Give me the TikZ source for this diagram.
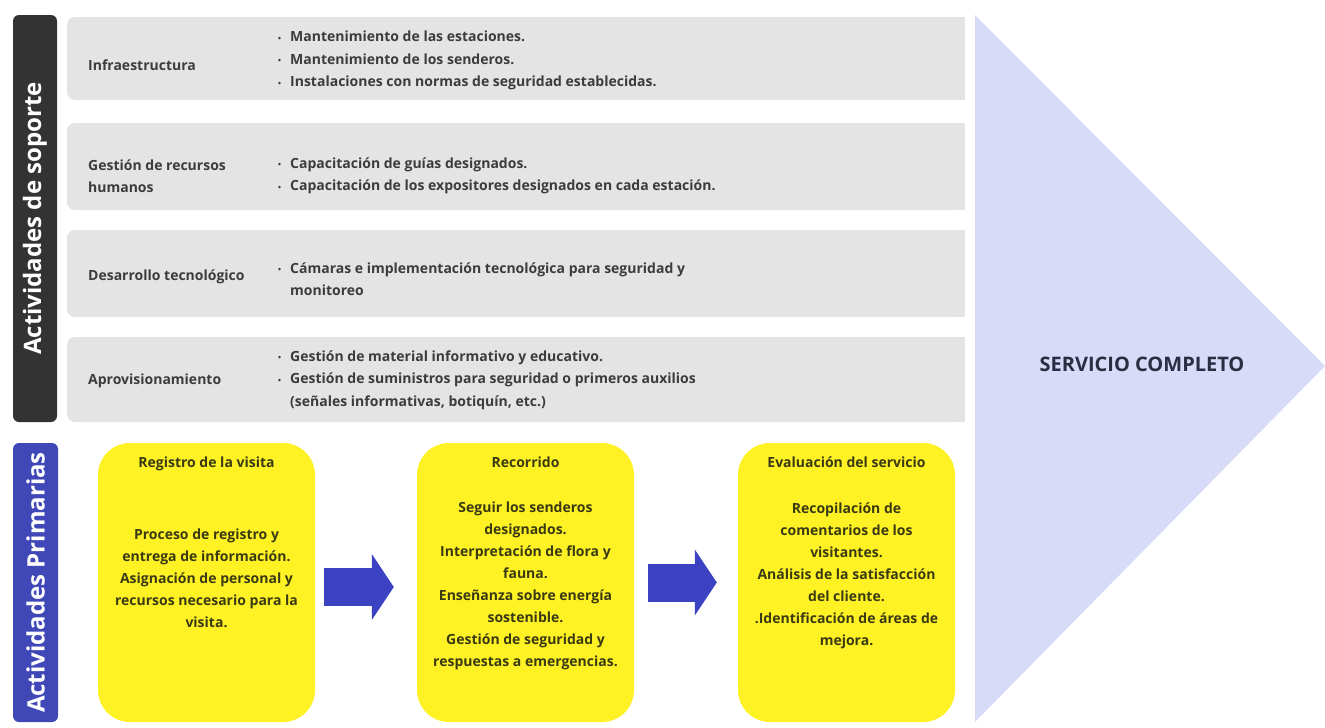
\documentclass[tikz,border=0pt]{standalone}
\usepackage{fontspec}
\setmainfont{Open Sans}
\usepackage{tikz}
\usetikzlibrary{positioning}
\usetikzlibrary{arrows.meta}
\usepackage{xcolor}

\definecolor{darkbar}{HTML}{333333}
\definecolor{primbar}{HTML}{4048B8}
\definecolor{rowgray}{HTML}{E4E4E4}
\definecolor{textgray}{HTML}{3C3C3C}
\definecolor{boxyellow}{HTML}{FFF224}
\definecolor{yellowtext}{HTML}{3A3A12}
\definecolor{arrowblue}{HTML}{3C43C2}
\definecolor{servfill}{HTML}{D7DBF7}
\definecolor{servtext}{HTML}{2B2D42}

\newcommand{\itemdot}{\makebox[12pt][l]{\raisebox{0.5pt}{\footnotesize •}}}
\newcommand{\itemgap}{\hspace*{12pt}}

\tikzset{
  sidebar/.style={rounded corners=6pt, rotate=90, text=white, inner sep=0pt,
    font=\fontsize{24}{28}\selectfont\bfseries},
  rowbox/.style={fill=rowgray, rounded corners=8pt, minimum width=898pt, inner sep=0pt},
  rowtext/.style={anchor=west, align=left, text=textgray, inner sep=0pt,
    font=\fontsize{14}{22.5}\selectfont\bfseries},
  stagebox/.style={fill=boxyellow, rounded corners=32pt, minimum width=217pt,
    minimum height=279pt, inner sep=0pt},
  stagetext/.style={align=center, text=yellowtext, inner sep=0pt,
    font=\fontsize{14}{22}\selectfont\bfseries},
  flow/.style={line width=38pt, draw=arrowblue, -{Triangle[length=22pt,width=65pt]}},
}

\begin{document}
\begin{tikzpicture}[x=1pt, y=-1pt]

\fill[white] (0,0) rectangle (1325,728);
\useasboundingbox (0,0) rectangle (1325,728);

% barras laterales
\node[sidebar, fill=darkbar, minimum width=407pt, minimum height=44pt] (soporte) at (35,218.5) {Actividades de soporte};
\node[sidebar, fill=primbar, minimum width=279pt, minimum height=45pt] (primarias) at (35.5,582.5) {Actividades Primarias};

% filas de soporte
\foreach \yc/\h [count=\i] in {58.5/83, 166.5/87, 273.5/87, 379.5/85} {
  \node[rowbox, minimum height=\h pt] (row-\i) at (516,\yc) {};
  \fill[rowgray] ([xshift=-12pt]row-\i.north east) rectangle (row-\i.south east);
}

\foreach \l/\yc [count=\i] in {Infraestructura/65, {Gestión de recursos\\humanos}/176, Desarrollo tecnológico/277, Aprovisionamiento/381}
  \node[rowtext] (label-\i) at (88,\yc) {\l};

\node[rowtext] (items-1) at (278,60.5) {\itemdot Mantenimiento de las estaciones.\\
  \itemdot Mantenimiento de los senderos.\\
  \itemdot Instalaciones con normas de seguridad establecidas.};
\node[rowtext] (items-2) at (278,176) {\itemdot Capacitación de guías designados.\\
  \itemdot Capacitación de los expositores designados en cada estación.};
\node[rowtext] (items-3) at (278,279) {\itemdot Cámaras e implementación tecnológica para seguridad y\\
  \itemgap monitoreo};
\node[rowtext] (items-4) at (278,380) {\itemdot Gestión de material informativo y educativo.\\
  \itemdot Gestión de suministros para seguridad o primeros auxilios\\
  \itemgap (señales informativas, botiquín, etc.)};

% actividades primarias
\foreach \xc/\nm in {206.5/reg, 525.5/rec, 846.5/eva}
  \node[stagebox] (\nm) at (\xc,582.5) {};

\node[stagetext, below=14pt of reg.north] (reg-title) {Registro de la visita};
\node[stagetext, below=14pt of rec.north] (rec-title) {Recorrido};
\node[stagetext, below=14pt of eva.north] (eva-title) {Evaluación del servicio};

\node[stagetext, below=86pt of reg.north] (reg-body) {Proceso de registro y\\ entrega de información.\\
  Asignación de personal y\\ recursos necesario para la\\ visita.};
\node[stagetext, below=59pt of rec.north] (rec-body) {Seguir los senderos\\ designados.\\
  Interpretación de flora y\\ fauna.\\ Enseñanza sobre energía\\ sostenible.\\
  Gestión de seguridad y\\ respuestas a emergencias.};
\node[stagetext, below=60pt of eva.north] (eva-body) {Recopilación de\\ comentarios de los\\
  visitantes.\\ Análisis de la satisfacción\\ del cliente.\\ .Identificación de áreas de\\ mejora.};

\draw[flow] ([xshift=9pt,yshift=-4.5pt]reg.east) -- ([xshift=-23pt,yshift=-4.5pt]rec.west);
\draw[flow] ([xshift=14pt]rec.east) -- ([xshift=-21pt]eva.west);

% servicio completo
\fill[servfill] (975,15) coordinate (tri-top) -- (1325,366) coordinate (tri-tip)
  -- (975,722) coordinate (tri-bot) -- cycle;
\node[text=servtext, font=\fontsize{20}{24}\selectfont\bfseries] (servicio) at (1142,364) {SERVICIO COMPLETO};

\end{tikzpicture}
\end{document}
